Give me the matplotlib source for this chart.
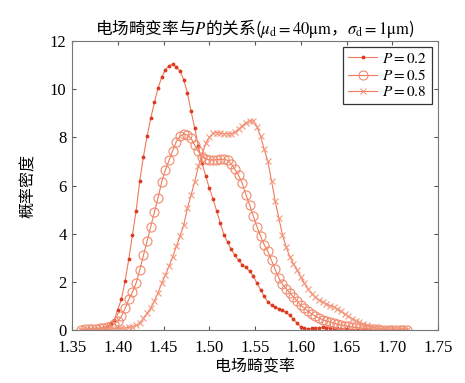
import numpy as np
import matplotlib
matplotlib.use("Agg")
import matplotlib.pyplot as plt

plt.rcParams['font.family'] = ['Liberation Serif', 'Noto Sans CJK SC', 'DejaVu Sans']
plt.rcParams['mathtext.fontset'] = 'stix'

# x grid of the curves (1.360 ... 1.716, step 0.004)
x = np.round(1.36 + 0.004 * np.arange(90), 3)

y_p02 = [0.01, 0.02, 0.03, 0.035, 0.045, 0.06, 0.09, 0.15, 0.25, 0.42,
         0.85, 1.30, 2.05, 2.95, 3.95, 4.95, 6.20, 7.20, 8.05, 8.80,
         9.45, 10.05, 10.50, 10.80, 10.98, 11.03, 10.93, 10.75, 10.40, 9.85,
         9.10, 8.40, 7.65, 6.95, 6.40, 5.90, 5.45, 4.95, 4.45, 3.95,
         3.65, 3.35, 3.10, 2.90, 2.72, 2.60, 2.45, 2.25, 1.95, 1.68,
         1.40, 1.17, 1.04, 0.96, 0.88, 0.82, 0.74, 0.62, 0.46, 0.29,
         0.15, 0.08, 0.06, 0.07, 0.08, 0.10, 0.11, 0.10, 0.10, 0.09,
         0.07, 0.05, 0.04, 0.03, 0.02, 0.01, 0.005, 0.0, 0.0, 0.0,
         0.0, 0.0, 0.0, 0.0, 0.0, 0.0, 0.0, 0.0, 0.0, 0.0]
y_p05 = [0.02, 0.03, 0.035, 0.04, 0.05, 0.07, 0.085, 0.11, 0.16, 0.25,
         0.37, 0.58, 0.90, 1.28, 1.58, 1.96, 2.50, 3.10, 3.70, 4.30,
         4.90, 5.50, 6.15, 6.65, 7.05, 7.45, 7.82, 8.05, 8.14, 8.10,
         7.96, 7.68, 7.42, 7.20, 7.10, 7.07, 7.06, 7.07, 7.09, 7.09,
         7.05, 6.90, 6.68, 6.42, 6.10, 5.62, 5.20, 4.75, 4.30, 3.90,
         3.55, 3.27, 2.90, 2.52, 2.17, 1.90, 1.72, 1.54, 1.37, 1.21,
         1.03, 0.91, 0.78, 0.67, 0.58, 0.50, 0.43, 0.38, 0.33, 0.29,
         0.25, 0.21, 0.18, 0.16, 0.13, 0.11, 0.09, 0.08, 0.06, 0.05,
         0.04, 0.03, 0.025, 0.02, 0.015, 0.01, 0.01, 0.008, 0.005, 0.005]
y_p08 = [0.0, 0.0, 0.005, 0.01, 0.015, 0.02, 0.03, 0.035, 0.045, 0.05,
         0.06, 0.075, 0.09, 0.11, 0.15, 0.20, 0.30, 0.50, 0.70, 0.92,
         1.20, 1.55, 1.95, 2.30, 2.65, 3.05, 3.48, 3.90, 4.35, 5.05,
         5.60, 6.15, 6.80, 7.25, 7.75, 8.00, 8.17, 8.20, 8.19, 8.16,
         8.15, 8.16, 8.22, 8.35, 8.48, 8.60, 8.70, 8.68, 8.45, 8.05,
         7.50, 7.00, 6.20, 5.35, 4.65, 3.95, 3.45, 3.05, 2.75, 2.50,
         2.20, 1.95, 1.70, 1.52, 1.37, 1.25, 1.17, 1.09, 1.02, 0.97,
         0.88, 0.78, 0.67, 0.57, 0.48, 0.40, 0.32, 0.25, 0.20, 0.15,
         0.10, 0.075, 0.05, 0.04, 0.03, 0.02, 0.015, 0.01, 0.005, 0.0]

labels = ['$P = 0.2$', '$P = 0.5$', '$P = 0.8$']
xticks = [1.35, 1.40, 1.45, 1.50, 1.55, 1.60, 1.65, 1.70, 1.75]
yticks = [0, 2, 4, 6, 8, 10, 12]

fig = plt.figure(figsize=(4.65, 3.83), dpi=100)
ax = fig.add_axes([0.155, 0.138, 0.787, 0.755])

line_c = '#ef7a5c'
ax.plot(x, y_p02, color=line_c, lw=0.8, marker='.', ms=3.5,
        mfc='#dc3a22', mec='#dc3a22', label=labels[0])
ax.plot(x, y_p05, color=line_c, lw=0.8, marker='o', ms=6.5,
        mfc='none', mec='#f08a6c', mew=0.8, label=labels[1])
ax.plot(x, y_p08, color=line_c, lw=0.8, marker='x', ms=4.5,
        mec='#f39a80', mew=0.8, label=labels[2])

ax.set_xlim(1.35, 1.75)
ax.set_ylim(0, 12)
ax.set_xticks(xticks)
ax.set_xticklabels([f'{t:.2f}' for t in xticks])
ax.set_yticks(yticks)
ax.tick_params(direction='in', top=True, right=True, length=3,
               labelsize=12, color='#555555')
ax.tick_params(axis='x', pad=7)
ax.tick_params(axis='y', pad=4)
for s in ax.spines.values():
    s.set_color('#777777')
    s.set_linewidth(0.8)

cjk = ['Noto Sans CJK SC', 'DejaVu Sans']
ax.set_xlabel('电场畸变率', family=cjk, fontsize=11.5, labelpad=2)
ax.set_ylabel('概率密度', family=cjk, fontsize=11.5, labelpad=9)
ax.set_title('电场畸变率与$P$的关系($\\mu_\\mathrm{d} = \\mathrm{40μm}$，'
             '$\\sigma_\\mathrm{d} = \\mathrm{1μm}$)',
             family=cjk, fontsize=12, pad=5)

leg = ax.legend(loc='upper right', fontsize=11, frameon=True, fancybox=False,
                edgecolor='black', borderaxespad=0.4, handlelength=1.9,
                handletextpad=0.35, borderpad=0.3, labelspacing=0.15)
leg.get_frame().set_linewidth(0.9)

fig.savefig('out.png', dpi=100)
